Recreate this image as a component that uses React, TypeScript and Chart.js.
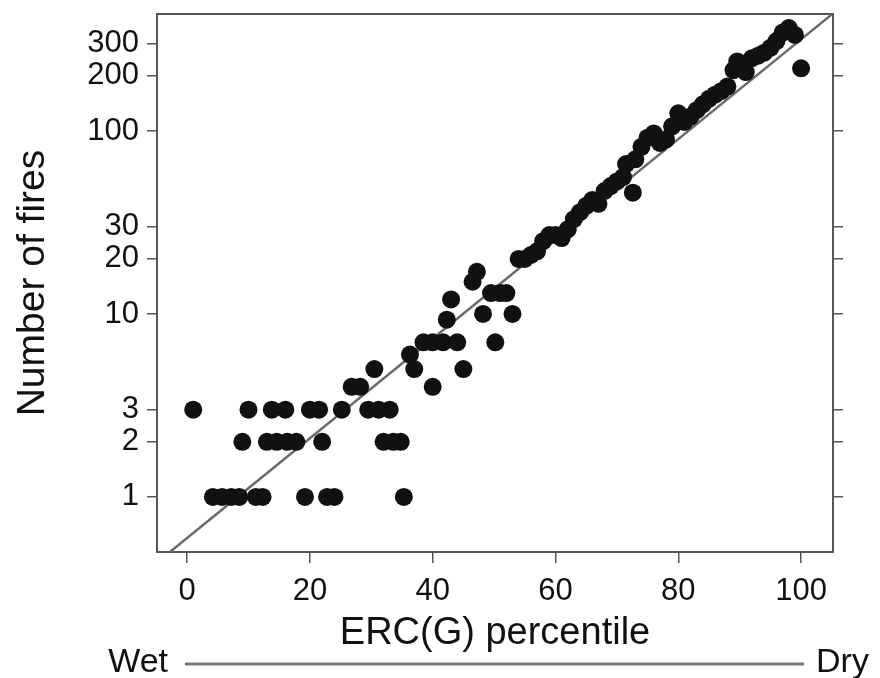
import React, { useEffect, useRef } from 'react';
import { Chart, registerables } from 'chart.js';

Chart.register(...registerables);

// ERC(G) percentile of each observation
const percentiles = [
  1, 4.2, 5.7, 7.2, 8.5, 9, 10, 11.2, 12.3, 13, 13.8, 14.6, 16, 16.3, 17.8, 19.2,
  20, 21.5, 22, 22.8, 24, 25.2, 26.8, 28.2, 29.5, 30.5, 31.2, 32, 33, 33.6, 34.8, 35.3,
  36.3, 37, 38.5, 40, 40, 41.7, 42.3, 43, 44, 45, 46.5, 47.2, 48.2, 49.5, 50.2, 51, 52, 53,
  54, 55, 56, 57, 58, 59, 60, 61, 62, 63, 64, 65, 66, 67, 68, 69, 70, 71, 71.5, 72.6, 73,
  74, 75, 76, 77, 78, 79, 80, 81, 82, 83, 84, 85, 86, 87, 88, 89, 89.6, 90, 91, 92, 93,
  94, 95, 96, 97, 98, 99, 100,
];
// Number of fires for each observation
const fires = [
  3, 1, 1, 1, 1, 2, 3, 1, 1, 2, 3, 2, 3, 2, 2, 1,
  3, 3, 2, 1, 1, 3, 4, 4, 3, 5, 3, 2, 3, 2, 2, 1,
  6, 5, 7, 4, 7, 7, 9.3, 12, 7, 5, 15, 17, 10, 13, 7, 13, 13, 10,
  20, 20, 21, 22, 25, 27, 27, 26, 29, 33, 36, 39, 42, 40, 47, 50, 53, 56, 66, 46, 70,
  82, 92, 97, 86, 90, 106, 125, 112, 120, 130, 140, 150, 158, 165, 175, 215, 240, 228, 210, 250, 258,
  268, 285, 310, 345, 365, 335, 220,
];
// Fitted line end points
const fitLineX = [-2.8, 105.1];
const fitLineY = [0.5, 436];

const yTickValues = [1, 2, 3, 10, 20, 30, 100, 200, 300];
const xTickValues = [0, 20, 40, 60, 80, 100];

const FONT = '"Liberation Sans", Arial, Helvetica, sans-serif';
const BOX = '#555555';

const wetDryPlugin = {
  id: 'wetDry',
  afterDraw(chart: any) {
    const ctx = chart.ctx;
    ctx.save();
    ctx.fillStyle = '#111';
    ctx.font = `34px ${FONT}`;
    ctx.textBaseline = 'alphabetic';
    ctx.textAlign = 'right';
    ctx.fillText('Wet', 168, 672);
    ctx.textAlign = 'left';
    ctx.fillText('Dry', 816, 672);
    ctx.strokeStyle = '#777';
    ctx.lineWidth = 3;
    ctx.beginPath();
    ctx.moveTo(185, 664);
    ctx.lineTo(804, 664);
    ctx.stroke();
    ctx.restore();
  },
};

const zeroPad = (scale: any) => {
  scale.paddingTop = 0;
  scale.paddingBottom = 0;
  scale.paddingLeft = 0;
  scale.paddingRight = 0;
};

export default function App() {
  const ref = useRef<HTMLCanvasElement | null>(null);

  useEffect(() => {
    if (!ref.current) return;
    const points = percentiles.map((x, i) => ({ x, y: fires[i] }));
    const linePts = fitLineX.map((x, i) => ({ x, y: fitLineY[i] }));
    const setYTicks = (scale: any) => {
      scale.ticks = yTickValues.map((v) => ({ value: v }));
    };
    const chart = new Chart(ref.current, {
      type: 'scatter',
      data: {
        datasets: [
          {
            type: 'scatter',
            data: points,
            backgroundColor: '#111111',
            borderWidth: 0,
            pointRadius: 9,
            pointHoverRadius: 9,
            order: 0,
          } as any,
          {
            type: 'line',
            data: linePts,
            borderColor: '#6a6a6a',
            borderWidth: 2.5,
            pointRadius: 0,
            fill: false,
            order: 1,
          } as any,
        ],
      },
      options: {
        animation: false,
        responsive: false,
        events: [],
        layout: { padding: 0 },
        plugins: {
          legend: { display: false },
          tooltip: { enabled: false },
        },
        scales: {
          x: {
            type: 'linear',
            position: 'bottom',
            min: -4.9,
            max: 105.2,
            afterBuildTicks: (scale: any) => {
              scale.ticks = xTickValues.map((v) => ({ value: v }));
            },
            afterFit: (scale: any) => {
              scale.height = 126;
              zeroPad(scale);
            },
            grid: {
              display: true,
              drawOnChartArea: false,
              drawTicks: true,
              tickLength: 11,
              color: BOX,
              lineWidth: 1.5,
            },
            border: { display: true, color: BOX, width: 2 },
            ticks: {
              color: '#111',
              font: { family: FONT, size: 31 },
              padding: 10,
              maxRotation: 0,
              autoSkip: false,
              callback: (v: any) => String(v),
            },
            title: {
              display: true,
              text: 'ERC(G) percentile',
              color: '#111',
              font: { family: FONT, size: 38 },
              padding: { top: 0, bottom: 22 },
            },
          },
          xTop: {
            type: 'linear',
            position: 'top',
            min: -4.9,
            max: 105.2,
            afterFit: (scale: any) => {
              scale.height = 14;
              zeroPad(scale);
            },
            grid: { display: false },
            ticks: { display: false },
            border: { display: true, color: BOX, width: 2 },
          },
          y: {
            type: 'logarithmic',
            position: 'left',
            min: 0.5,
            max: 436,
            afterBuildTicks: setYTicks,
            afterFit: (scale: any) => {
              scale.width = 157;
              zeroPad(scale);
            },
            grid: {
              display: true,
              drawOnChartArea: false,
              drawTicks: true,
              tickLength: 10,
              color: BOX,
              lineWidth: 1.5,
            },
            border: { display: true, color: BOX, width: 2 },
            ticks: {
              color: '#111',
              font: { family: FONT, size: 31 },
              padding: 8,
              autoSkip: false,
              callback: (v: any) => String(v),
            },
            title: {
              display: true,
              text: 'Number of fires',
              color: '#111',
              font: { family: FONT, size: 39 },
              padding: { top: 10, bottom: 0 },
            },
          },
          yRight: {
            type: 'logarithmic',
            position: 'right',
            min: 0.5,
            max: 436,
            afterBuildTicks: setYTicks,
            afterFit: (scale: any) => {
              scale.width = 47;
              zeroPad(scale);
            },
            grid: {
              display: true,
              drawOnChartArea: false,
              drawTicks: true,
              tickLength: 10,
              color: BOX,
              lineWidth: 1.5,
            },
            border: { display: true, color: BOX, width: 2 },
            ticks: { display: false },
          },
        },
      } as any,
      plugins: [wetDryPlugin],
    });
    return () => chart.destroy();
  }, []);

  return (
    <div style={{ position: 'absolute', left: 0, top: 0, width: 880, height: 678, background: '#fff' }}>
      <canvas ref={ref} width={880} height={678} />
    </div>
  );
}
